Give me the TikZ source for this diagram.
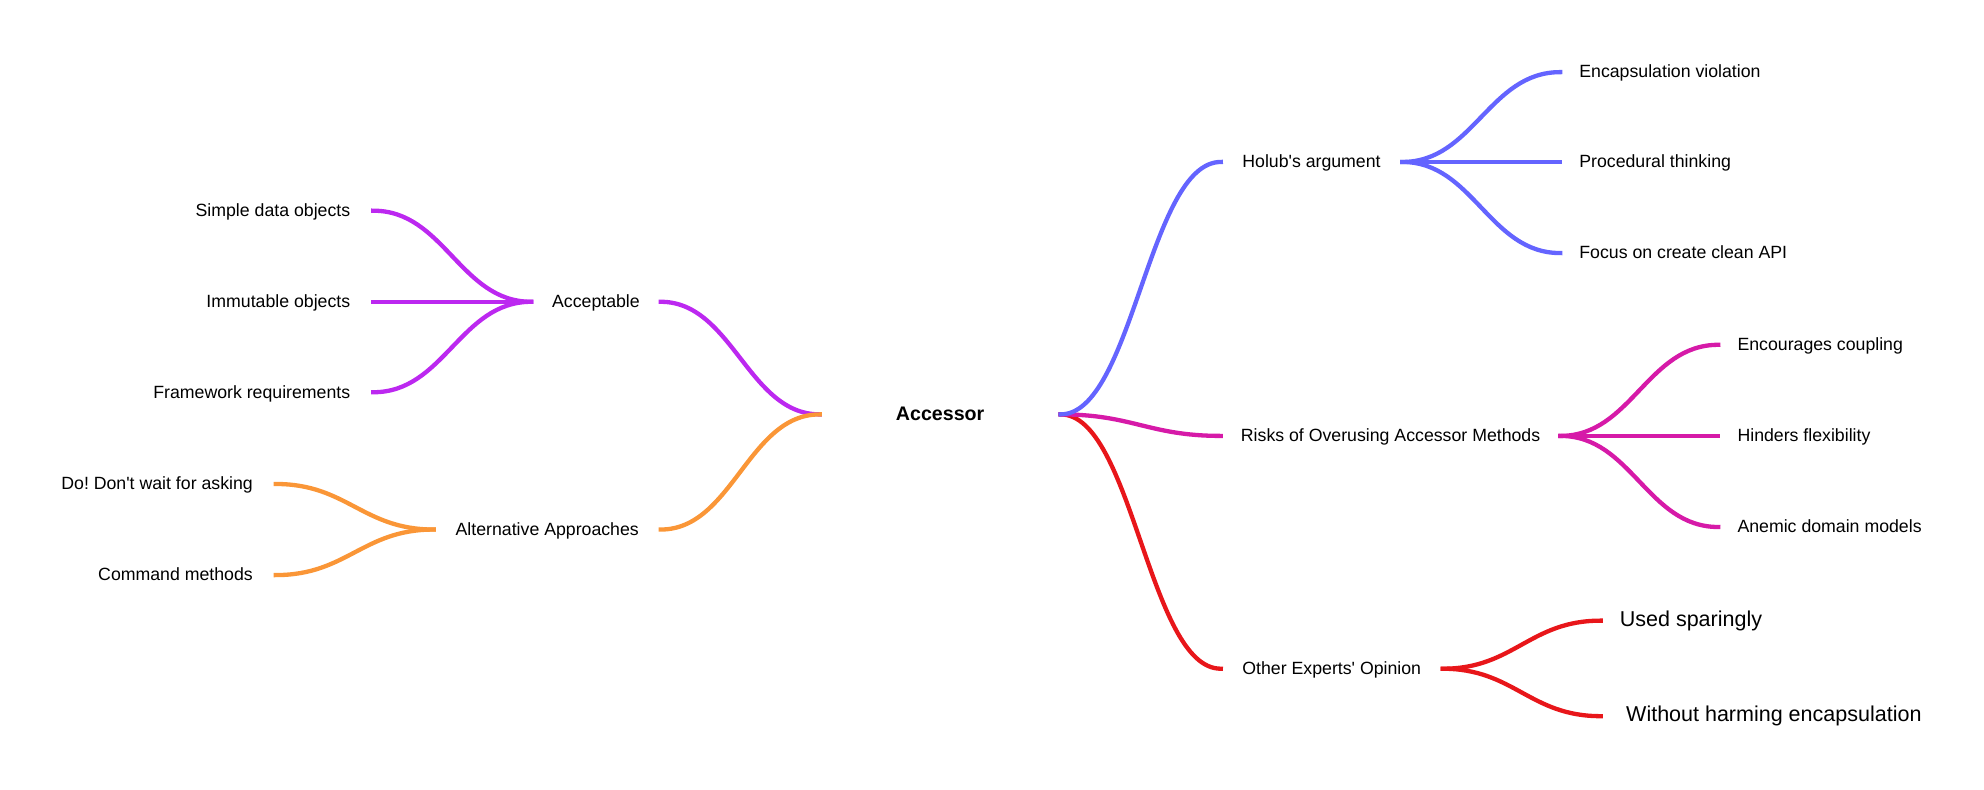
\documentclass[tikz,border=0pt]{standalone}
\usepackage{fontspec}
\setmainfont{Liberation Sans}
\usetikzlibrary{calc}
\frenchspacing
\definecolor{cBlue}{RGB}{100,100,255}
\definecolor{cMag}{RGB}{214,26,168}
\definecolor{cRed}{RGB}{232,22,26}
\definecolor{cPur}{RGB}{188,40,240}
\definecolor{cOra}{RGB}{250,150,55}
\tikzset{
  lbl/.style={inner ysep=0pt, text height=1.0em, text depth=0.08em, font=\fontsize{14}{16}\selectfont},
  big/.style={font=\fontsize{17}{19}\selectfont},
  mid/.style={lbl, inner xsep=0pt, align=center},
  leafR/.style={lbl, anchor=west, inner xsep=15pt},
  leafL/.style={lbl, anchor=east, inner xsep=18pt},
  conn/.style={line width=3.4pt, line cap=rect,
    to path={let \p1=(\tikztostart), \p2=(\tikztotarget) in
      .. controls ({0.55*\x1+0.45*\x2},\y1) and ({0.45*\x1+0.55*\x2},\y2) .. (\tikztotarget) \tikztonodes}}
}
\begin{document}
\begin{tikzpicture}[x=1pt,y=-1pt]
\useasboundingbox (0,0) rectangle (1568,624);
% root
\node[mid, minimum width=190pt, font=\bfseries\fontsize{15.5}{18}\selectfont] (acc) at (743,327.5) {Accessor};
% left branch
\node[mid, minimum width=102pt] (acpt) at (471,238.5) {Acceptable};
\node[mid, minimum width=179pt] (alt) at (432.5,418.5) {Alternative Approaches};
\node[leafL] (sdo) at (295,166.5) {Simple data objects};
\node[leafL] (imo) at (295,238.5) {Immutable objects};
\node[leafL] (frq) at (295,310) {Framework requirements};
\node[leafL] (dod) at (218,382.5) {Do! Don\textquotesingle t wait for asking};
\node[leafL] (cmd) at (218,454.5) {Command methods};
% right branch
\node[mid, minimum width=143pt] (hol) at (1036.5,128) {Holub\textquotesingle s argument};
\node[mid, minimum width=268pt] (rsk) at (1099,344.5) {Risks of Overusing Accessor Methods};
\node[mid, minimum width=175pt] (oth) at (1052.5,528.5) {Other Experts\textquotesingle\ Opinion};
\node[leafR] (env) at (1233,57) {Encapsulation violation};
\node[leafR] (prt) at (1233,128) {Procedural thinking};
\node[leafR] (fcs) at (1233,200) {Focus on create clean API};
\node[leafR] (enc) at (1358,272.5) {Encourages coupling};
\node[leafR] (hfl) at (1358,344.5) {Hinders flexibility};
\node[leafR] (adm) at (1358,416.5) {Anemic domain models};
\node[leafR, big] (usp) at (1265,490.5) {Used sparingly};
\node[leafR, big, inner xsep=20pt] (whe) at (1265,566) {Without harming encapsulation};
% connectors
\draw[conn, cPur] (acc.west) to (acpt.east);
\draw[conn, cOra] (acc.west) to (alt.east);
\draw[conn, cPur] (acpt.west) to (sdo.east);
\draw[conn, cPur] (acpt.west) to (imo.east);
\draw[conn, cPur] (acpt.west) to (frq.east);
\draw[conn, cOra] (alt.west) to (dod.east);
\draw[conn, cOra] (alt.west) to (cmd.east);
\draw[conn, cRed] (acc.east) to (oth.west);
\draw[conn, cMag] (acc.east) to (rsk.west);
\draw[conn, cBlue] (acc.east) to (hol.west);
\draw[conn, cBlue] (hol.east) to (env.west);
\draw[conn, cBlue] (hol.east) to (prt.west);
\draw[conn, cBlue] (hol.east) to (fcs.west);
\draw[conn, cMag] (rsk.east) to (enc.west);
\draw[conn, cMag] (rsk.east) to (hfl.west);
\draw[conn, cMag] (rsk.east) to (adm.west);
\draw[conn, cRed] (oth.east) to (usp.west);
\draw[conn, cRed] (oth.east) to (whe.west);
\end{tikzpicture}
\end{document}
